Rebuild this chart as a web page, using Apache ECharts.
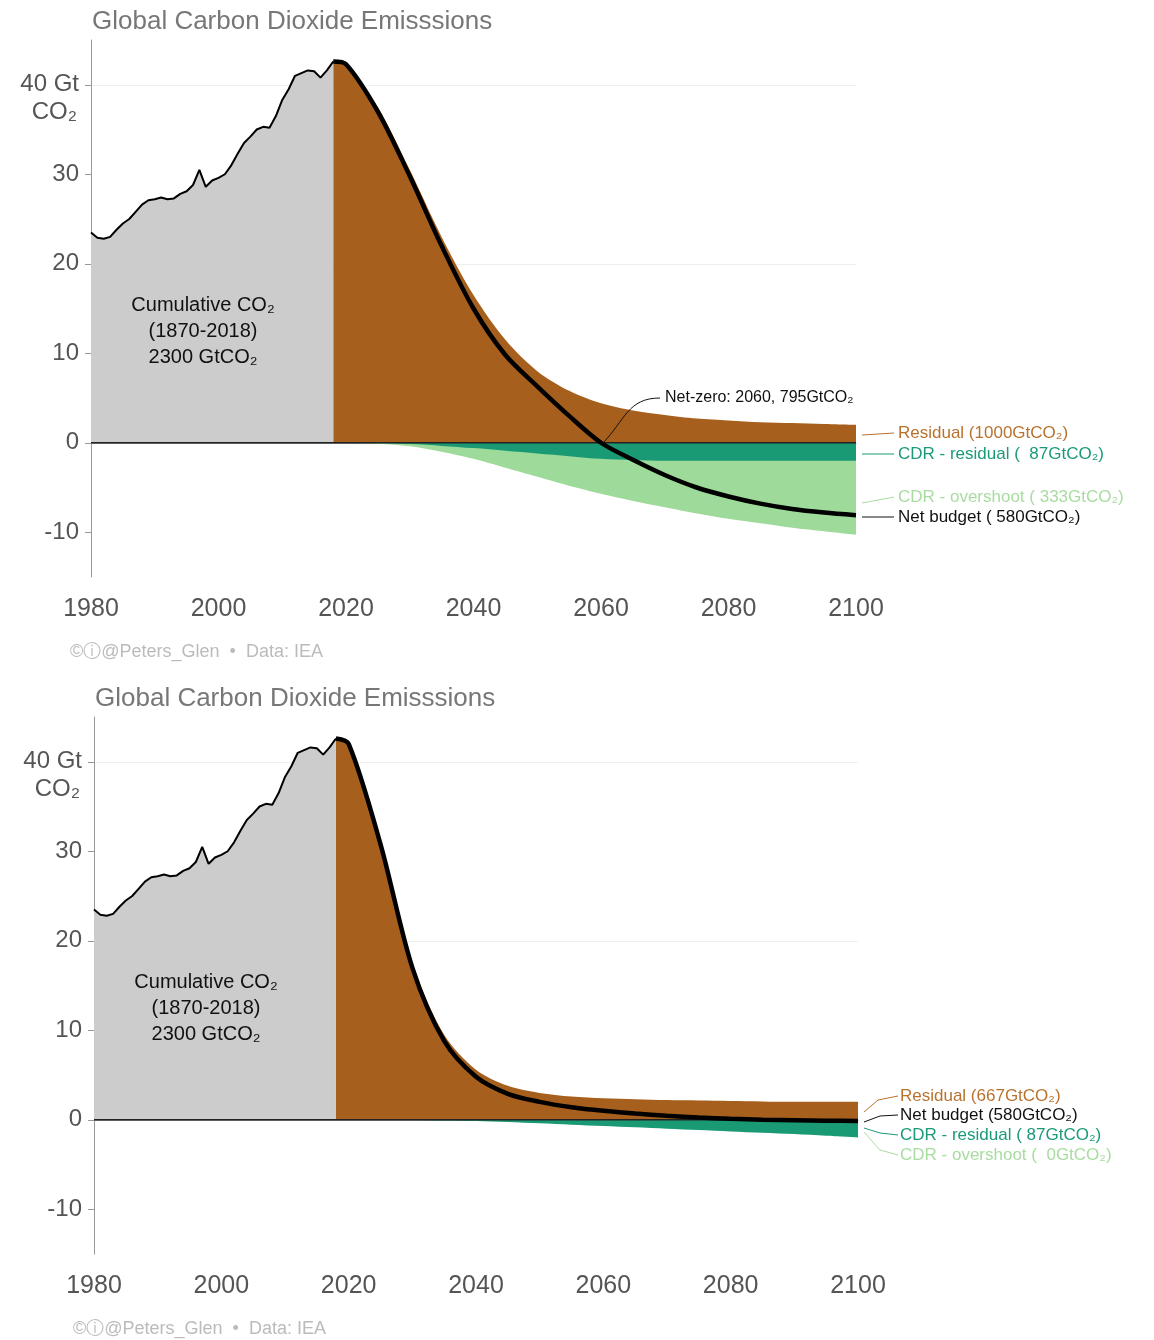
<!DOCTYPE html>
<html><head><meta charset="utf-8">
<script src="https://cdn.jsdelivr.net/npm/echarts@6/dist/echarts.min.js"></script>
<style>html,body{margin:0;padding:0;background:#fff}#c{width:1154px;height:1340px}</style>
</head><body><div id="c"></div>
<script>
// historical emissions 1980-2018
const histYears = [];
for (let y = 1980; y <= 2018; y++) histYears.push(y);
const histValues = [23.5,22.9,22.8,23.0,23.8,24.5,25.0,25.8,26.6,27.1,27.2,27.4,27.2,27.3,27.8,28.1,28.8,30.5,28.6,29.3,29.6,30.0,31.0,32.3,33.5,34.2,35.0,35.3,35.2,36.5,38.3,39.5,41.0,41.3,41.6,41.5,40.8,41.6,42.6];

const futYears = [2018,2020,2025,2030,2035,2040,2045,2050,2055,2060,2065,2070,2075,2080,2085,2090,2095,2100];
// top scenario
const gross1 = [42.6,42.3,37.5,30.5,23,16.5,11.5,8.0,5.8,4.4,3.6,3.1,2.7,2.5,2.3,2.2,2.1,2.0];
const net1 = [42.6,42.3,37,29.8,22,15,9.8,6.3,3.0,0,-1.9,-3.6,-5.0,-6.0,-6.8,-7.4,-7.8,-8.1];
const cdrRes1 = [0,0,-0.05,-0.15,-0.35,-0.6,-0.9,-1.2,-1.5,-1.8,-1.95,-2.0,-2.0,-2.0,-2.0,-2.0,-2.0,-2.0];
const cdrTotal1 = [0,0,-0.1,-0.4,-1.0,-1.8,-2.8,-3.8,-4.8,-5.7,-6.5,-7.2,-7.9,-8.5,-9.0,-9.5,-9.9,-10.3];
// bottom scenario
const gross2 = [42.6,42.0,31,17.5,9.5,5.6,3.8,3.0,2.6,2.4,2.3,2.2,2.15,2.1,2.05,2.0,2.0,2.0];
const net2 = [42.6,42.0,30.8,17.0,8.8,4.8,2.9,2.0,1.4,1.0,0.7,0.45,0.25,0.1,0.0,-0.05,-0.1,-0.15];
const cdrRes2 = [0,0,0,-0.02,-0.08,-0.15,-0.25,-0.4,-0.55,-0.7,-0.85,-1.0,-1.15,-1.3,-1.45,-1.6,-1.8,-2.0];
const yTicks = [-10,0,10,20,30,40];

const C = { brown:'#a65f1c', grey:'#cccccc', dark:'#1a9a74', light:'#9edb9a', lab:'#b8722e', darkLab:'#1a9a78', lightLab:'#a8dca0' };
const FONT = 'Liberation Sans';
const pairs = (xs, ys) => xs.map((x, i) => [x, ys[i]]);

const chart = echarts.init(document.getElementById('c'));

function axes(i) {
  return {
    x: { type:'value', gridIndex:i, min:1980, max:2100, interval:20,
      axisLine:{show:true, lineStyle:{color:'#999'}}, axisTick:{show:false}, splitLine:{show:false},
      axisLabel:{color:'#555', fontSize:25, margin:20, fontFamily:FONT, formatter:v=>String(v)} },
    y: { type:'value', gridIndex:i, min:-15, max:45, interval:5,
      axisLine:{show:true, lineStyle:{color:'#999'}},
      axisTick:{show:true, length:6, lineStyle:{color:'#999'}, customValues:yTicks},
      // lines every 5 from -15: show only the multiples of 10
      splitLine:{show:true, lineStyle:{color:['rgba(0,0,0,0)','#efefef'], width:1}},
      axisLabel:{color:'#555', fontSize:24, fontFamily:FONT, margin:12, customValues:yTicks,
        formatter:v=> v===40 ? '40 Gt' : String(v) } }
  };
}
const a0 = axes(0), a1 = axes(1);

function area(i, data, color, z) {
  return { type:'line', xAxisIndex:i, yAxisIndex:i, data, symbol:'none', smooth:0.3, z,
    lineStyle:{width:0}, areaStyle:{color, opacity:1, origin:0}, silent:true };
}
function line(i, data, width, z, smooth) {
  return { type:'line', xAxisIndex:i, yAxisIndex:i, data, symbol:'none', smooth, z,
    lineStyle:{width, color:'#000'}, silent:true };
}

const series = [];
[0,1].forEach(i => {
  const gross = i ? gross2 : gross1;
  const net = i ? net2 : net1;
  const res = i ? cdrRes2 : cdrRes1;
  series.push(area(i, pairs(futYears, gross), C.brown, 2));
  if (!i) series.push(area(i, pairs(futYears, cdrTotal1), C.light, 2));
  series.push(area(i, pairs(futYears, res), C.dark, 3));
  series.push(Object.assign(area(i, pairs(histYears, histValues), C.grey, 4), {smooth:false}));
  series.push(line(i, pairs(histYears, histValues), 2, 6, false));
  series.push(line(i, pairs(futYears, net), 4.5, 6, 0.3));
  series.push({ type:'line', xAxisIndex:i, yAxisIndex:i, data:[[1980,0],[2100,0]], symbol:'none', z:5,
    lineStyle:{width:1.5, color:'#222'}, silent:true });
});

const txt = (x, y, text, fill, size, extra) => ({ type:'text', x, y, z:100, style:Object.assign({ text, fill, fontSize:size, fontFamily:FONT, textVerticalAlign:'middle' }, extra||{}) });
const ln = (pts, stroke) => ({ type:'polyline', z:100, shape:{points:pts}, style:{stroke, lineWidth:1, fill:null} });

const graphics = [];
[0, 677].forEach(dy => {
  const dx = dy ? 3 : 0;
  graphics.push(txt(92+dx, 22+dy, 'Global Carbon Dioxide Emisssions', '#777', 26));
  graphics.push(txt(77+dx, 112+dy, 'CO₂', '#555', 24, {textAlign:'right'}));
  graphics.push(txt(70+dx, 652+dy, '©ⓘ@Peters_Glen  •  Data: IEA', '#bbb', 18));
  graphics.push(txt(203+dx, 305+dy, 'Cumulative CO₂', '#111', 20, {textAlign:'center'}));
  graphics.push(txt(203+dx, 331+dy, '(1870-2018)', '#111', 20, {textAlign:'center'}));
  graphics.push(txt(203+dx, 357+dy, '2300 GtCO₂', '#111', 20, {textAlign:'center'}));
});
// top annotations
graphics.push(txt(665, 398, 'Net-zero: 2060, 795GtCO₂', '#111', 16));
graphics.push({ type:'bezierCurve', z:100, shape:{x1:603,y1:443,x2:660,y2:398,cpx1:625,cpy1:420,cpx2:628,cpy2:398}, style:{stroke:'#111', lineWidth:1, fill:null} });
graphics.push(ln([[862,435],[894,433]], C.lab), txt(898, 433, 'Residual (1000GtCO₂)', C.lab, 17));
graphics.push(ln([[862,454],[894,454]], C.darkLab), txt(898, 454, 'CDR - residual (  87GtCO₂)', C.darkLab, 17));
graphics.push(ln([[862,503],[894,497]], C.lightLab), txt(898, 497, 'CDR - overshoot ( 333GtCO₂)', C.lightLab, 17));
graphics.push(ln([[862,517],[894,517]], '#111'), txt(898, 517, 'Net budget ( 580GtCO₂)', '#111', 17));
// bottom annotations
graphics.push(ln([[864,1112],[878,1100],[898,1096]], C.lab), txt(900, 1096, 'Residual (667GtCO₂)', C.lab, 17));
graphics.push(ln([[864,1122],[880,1116],[898,1115]], '#111'), txt(900, 1115, 'Net budget (580GtCO₂)', '#111', 17));
graphics.push(ln([[864,1128],[880,1133],[898,1135]], C.darkLab), txt(900, 1135, 'CDR - residual ( 87GtCO₂)', C.darkLab, 17));
graphics.push(ln([[864,1132],[880,1150],[898,1155]], C.lightLab), txt(900, 1155, 'CDR - overshoot (  0GtCO₂)', C.lightLab, 17));

chart.setOption({
  animation:false,
  grid:[
    { left:91, right:298, top:40, height:537 },
    { left:94, right:296, top:717, height:537 }
  ],
  xAxis:[a0.x, a1.x],
  yAxis:[a0.y, a1.y],
  series,
  graphic: graphics
});
</script>
</body></html>
